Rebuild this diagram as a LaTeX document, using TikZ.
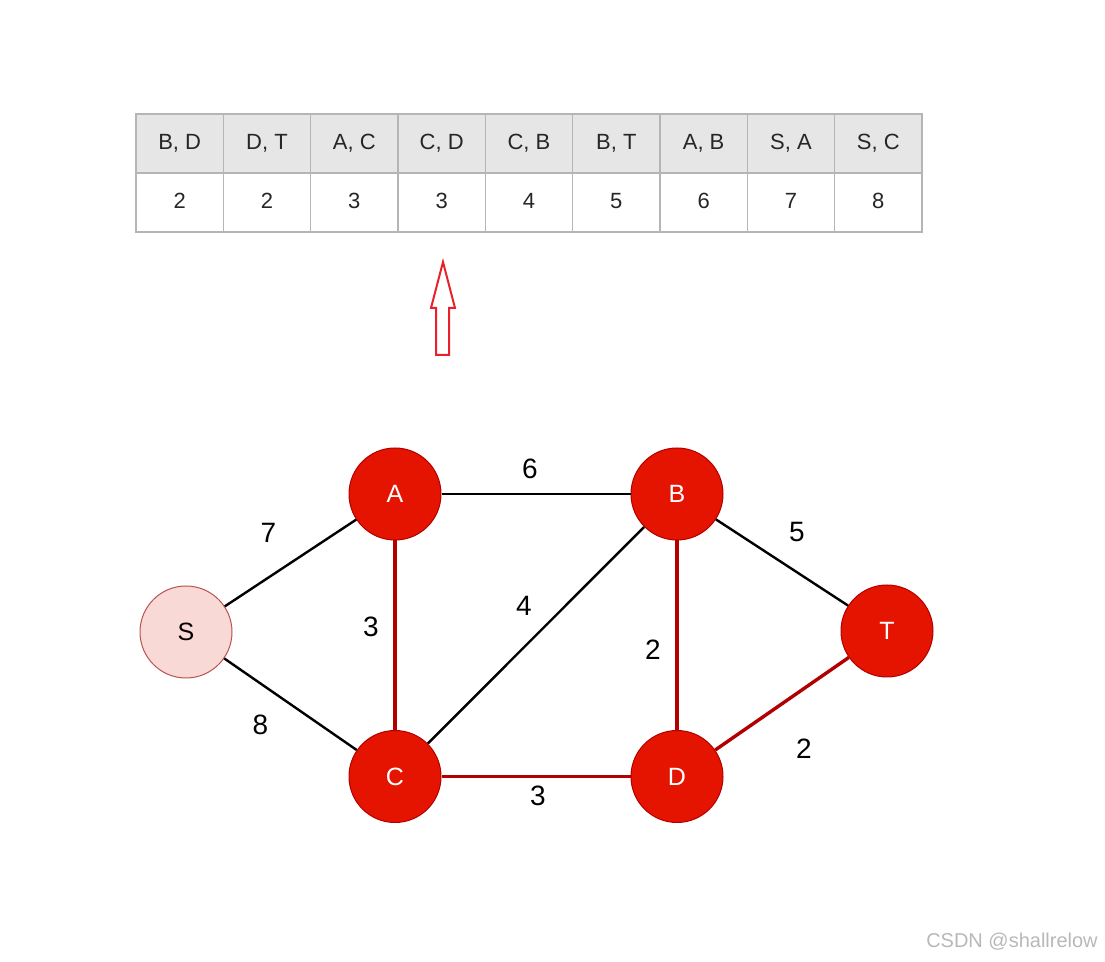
\documentclass[tikz,border=0pt]{standalone}
\usepackage{fontspec}
\setmainfont{Liberation Sans}
\usetikzlibrary{positioning}
\definecolor{vertexred}{HTML}{E51400}
\definecolor{vertexrim}{HTML}{B20000}
\definecolor{startpink}{HTML}{F8D9D5}
\definecolor{startrim}{HTML}{B85450}
\definecolor{treered}{HTML}{B20000}
\definecolor{headgray}{HTML}{E6E6E6}
\definecolor{gridgray}{HTML}{B5B5B5}
\definecolor{pointred}{HTML}{E8212B}

\begin{document}
\begin{tikzpicture}[
  x=0.5pt,y=-0.5pt,
  vertex/.style={circle,draw=vertexrim,line width=0.5pt,fill=vertexred,minimum size=46pt,inner sep=0pt,
    text=white,font=\fontsize{12.5}{14}\selectfont},
  start/.style={vertex,draw=startrim,fill=startpink,text=black},
  cell/.style={draw=gridgray,line width=0.6pt,minimum width=43.67pt,minimum height=29.5pt,inner sep=0pt,
    text height=8pt,text depth=2pt,text=black!85,font=\fontsize{11}{13}\selectfont},
  headcell/.style={cell,fill=headgray},
  plain/.style={black,line width=1.2pt},
  tree/.style={treered,line width=1.7pt},
  wt/.style={midway,text=black,font=\fontsize{14}{16}\selectfont}
]
  \useasboundingbox (0,0) rectangle (1105,962);

  % sorted edge table
  \foreach \pair/\w [count=\i] in {{B, D}/2,{D, T}/2,{A, C}/3,{C, D}/3,{C, B}/4,{B, T}/5,{A, B}/6,{S, A}/7,{S, C}/8}{
    \node[headcell] (h\i) at ({136+(\i-0.5)*87.33},143.5) {\pair};
    \node[cell] (v\i) at ({136+(\i-0.5)*87.33},202.5) {\w};
  }

  % pointer
  \draw[pointred,line width=1pt,line join=miter]
    (443,262) -- (455,308) -- (449,308) -- (449,355) -- (436,355) -- (436,308) -- (431,308) -- cycle;

  % graph
  \node[start] (S) at (186,632) {S};
  \node[vertex] (A) at (395,494) {A};
  \node[vertex] (B) at (677,494) {B};
  \node[vertex] (T) at (887,631) {T};
  \node[vertex] (C) at (395,776.5) {C};
  \node[vertex] (D) at (677,776.5) {D};

  \draw[plain] (S) -- node[wt,shift={(-22,-30)}] {7} (A);
  \draw[plain] (S) -- node[wt,shift={(-30,21)}] {8} (C);
  \draw[plain] (A) -- node[wt,shift={(-6,-25)}] {6} (B);
  \draw[plain] (C) -- node[wt,shift={(-12,-29)}] {4} (B);
  \draw[plain] (B) -- node[wt,shift={(15,-30)}] {5} (T);
  \draw[tree] (A) -- node[wt,shift={(-24,-8)}] {3} (C);
  \draw[tree] (B) -- node[wt,shift={(-24,14)}] {2} (D);
  \draw[tree] (C) -- node[wt,shift={(2,19)}] {3} (D);
  \draw[tree] (D) -- node[wt,shift={(22,45)}] {2} (T);

  \node[text=black!28,font=\fontsize{10}{12}\selectfont] (mark) at (1012,942) {CSDN @shallrelow};
\end{tikzpicture}
\end{document}
